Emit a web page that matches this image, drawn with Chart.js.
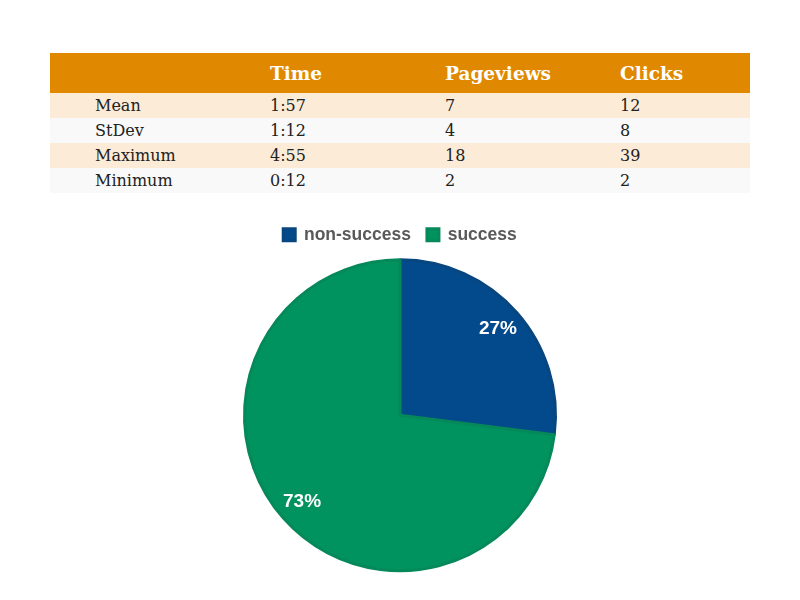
<!DOCTYPE html>
<html>
<head>
<meta charset="utf-8">
<script src="https://cdn.jsdelivr.net/npm/chart.js@4/dist/chart.umd.min.js"></script>
<style>
  html, body { margin: 0; padding: 0; background: #ffffff; width: 800px; height: 600px; overflow: hidden; }
  #stats { position: absolute; left: 50px; top: 53px; width: 700px; border-collapse: collapse; font-family: "DejaVu Serif", "Liberation Serif", serif; font-size: 16px; color: #222; table-layout: fixed; }
  #stats th { background: #E08900; color: #fff; font-weight: bold; font-size: 18.5px; height: 40px; text-align: left; padding: 0; }
  #stats td { height: 25px; padding: 0; }
  #stats tr.odd td { background: #FBEBD7; }
  #stats tr.even td { background: #F9F9F9; }
  #stats td:first-child, #stats th:first-child { padding-left: 45px; }
  #stats td:not(:first-child), #stats th:not(:first-child) { padding-left: 20px; }
  #box { position: absolute; left: 233px; top: 210px; width: 334px; height: 367px; }
</style>
</head>
<body>
<table id="stats">
  <colgroup><col style="width:200px"><col style="width:175px"><col style="width:175px"><col style="width:150px"></colgroup>
  <thead><tr id="headRow"></tr></thead>
  <tbody id="bodyRows"></tbody>
</table>
<div id="box"><canvas id="c"></canvas></div>
<script>
// Table data
const tableColumns = ["", "Time", "Pageviews", "Clicks"];
const rowLabels = ["Mean", "StDev", "Maximum", "Minimum"];
const timeValues = ["1:57", "1:12", "4:55", "0:12"];
const pageviewValues = [7, 4, 18, 2];
const clickValues = [12, 8, 39, 2];

// Pie data
const pieLabels = ["non-success", "success"];
const pieValues = [27, 73];
const pieColors = ["#034A8C", "#00935F"];
const pieBorders = ["#07467F", "#05895A"];

// Build table
const headRow = document.getElementById("headRow");
tableColumns.forEach(c => { const th = document.createElement("th"); th.textContent = c; headRow.appendChild(th); });
const tbody = document.getElementById("bodyRows");
rowLabels.forEach((lab, i) => {
  const tr = document.createElement("tr");
  tr.className = i % 2 === 0 ? "odd" : "even";
  [lab, timeValues[i], pageviewValues[i], clickValues[i]].forEach(v => {
    const td = document.createElement("td"); td.textContent = v; tr.appendChild(td);
  });
  tbody.appendChild(tr);
});

// Label plugin
const pctLabels = {
  id: "pctLabels",
  afterDatasetsDraw(chart) {
    const ctx = chart.ctx;
    const meta = chart.getDatasetMeta(0);
    const total = pieValues.reduce((a, b) => a + b, 0);
    ctx.save();
    ctx.fillStyle = "#ffffff";
    ctx.font = "bold 19px 'Liberation Sans', Arial, sans-serif";
    ctx.textAlign = "center";
    ctx.textBaseline = "middle";
    meta.data.forEach((arc, i) => {
      const p = arc.getProps(["x", "y", "startAngle", "endAngle", "outerRadius"], true);
      const mid = (p.startAngle + p.endAngle) / 2;
      const r = p.outerRadius * 0.84;
      ctx.fillText(Math.round(pieValues[i] / total * 100) + "%", p.x + Math.cos(mid) * r, p.y + Math.sin(mid) * r);
    });
    ctx.restore();
  }
};

new Chart(document.getElementById("c"), {
  type: "pie",
  data: {
    labels: pieLabels,
    datasets: [{ data: pieValues, backgroundColor: pieColors, borderColor: pieBorders, borderWidth: 3 }]
  },
  options: {
    responsive: true,
    maintainAspectRatio: false,
    animation: false,
    layout: { padding: { left: 10, right: 10, top: 0, bottom: 0 } },
    plugins: {
      legend: {
        position: "top",
        labels: {
          boxWidth: 12, boxHeight: 12, padding: 16,
          color: "#595959",
          font: { family: "'Liberation Sans', Arial, sans-serif", size: 17.5, weight: "bold" }
        }
      },
      tooltip: { enabled: false }
    }
  },
  plugins: [pctLabels]
});
</script>
</body>
</html>
